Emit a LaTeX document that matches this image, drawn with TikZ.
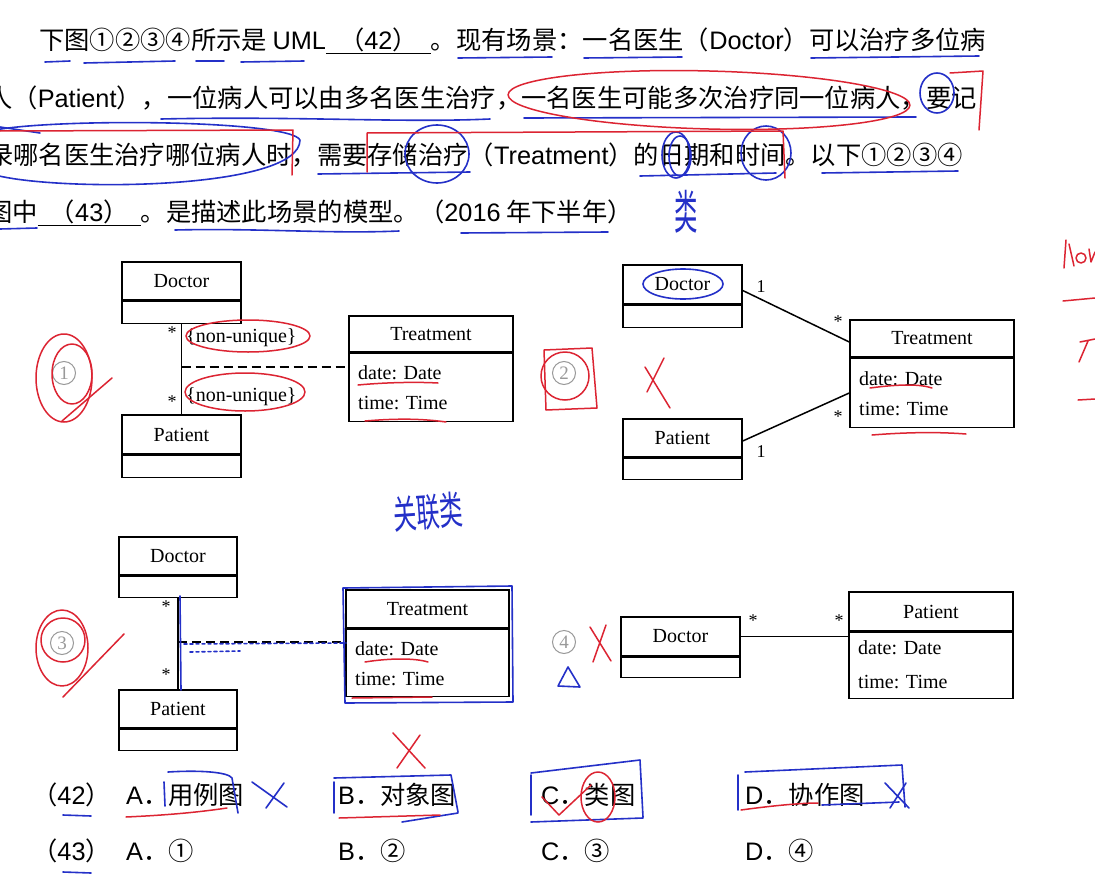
\documentclass[tikz,border=0pt]{standalone}
\usepackage{fontspec}
\setmainfont{Liberation Sans}
\newfontfamily\cjkfont{Noto Sans CJK SC}
\newfontfamily\latfont{Liberation Sans}
\newfontfamily\umlfont{Liberation Serif}
\definecolor{inkred}{RGB}{220,36,50}
\definecolor{inkblue}{RGB}{36,48,200}
\tikzset{
  qtext/.style={anchor=base west, inner sep=0pt, font=\cjkfont\fontsize{25.3}{30}\selectfont},
  clshead/.style={draw, line width=1.5pt, inner sep=0pt, font=\umlfont\fontsize{20}{24}\selectfont},
  clsbody/.style={draw, line width=1.5pt, inner sep=0pt, anchor=north},
  attr/.style={anchor=west, inner sep=0pt, font=\umlfont\fontsize{20}{24}\selectfont},
  mult/.style={inner sep=0pt, font=\umlfont\fontsize{18}{20}\selectfont},
  assoc/.style={line width=1.5pt},
  assocdash/.style={line width=1.5pt, dash pattern=on 9pt off 5pt},
  numlabel/.style={circle, draw=gray!80, line width=1pt, minimum size=23pt, inner sep=0pt, text=gray!80, font=\umlfont\fontsize{19}{20}\selectfont},
  redink/.style={draw=inkred, line width=1.5pt, line cap=round, line join=round},
  blueink/.style={draw=inkblue, line width=1.6pt, line cap=round, line join=round},
  handtext/.style={inner sep=0pt, text=inkblue, font=\cjkfont\fontsize{26}{30}\selectfont}
}

\begin{document}
\begin{tikzpicture}[x=1pt, y=-1pt]
    \useasboundingbox (0,0) rectangle (1095,875);
    \clip (0,0) rectangle (1095,875);
    \fill[white] (0,0) rectangle (1095,875);

    % Question text
    \node[qtext] (ln1) at (39,49) {下图①②③④所示是 {\latfont UML}\underline{\makebox[105pt]{（{\latfont 42}）}}。现有场景：一名医生（{\latfont Doctor}）可以治疗多位病};
    \node[qtext] (ln2) at (-13,107) {人（{\latfont Patient}），一位病人可以由多名医生治疗，一名医生可能多次治疗同一位病人，要记};
    \node[qtext] (ln3) at (-12,164) {录哪名医生治疗哪位病人时，需要存储治疗（{\latfont Treatment}）的日期和时间。以下①②③④};
    \node[qtext] (ln4) at (-13,221) {图中\underline{\makebox[103pt]{（{\latfont 43}）}}。是描述此场景的模型。（{\latfont 2016} 年下半年）};

    % Diagram 1
    \node[clshead, minimum width=119pt, minimum height=38pt] (doc1) at (181.5,281) {Doctor};
    \node[clsbody, minimum width=119pt, minimum height=22pt] (doc1b) at (doc1.south) {};
    \node[clshead, minimum width=119pt, minimum height=39pt] (pat1) at (181.5,434.5) {Patient};
    \node[clsbody, minimum width=119pt, minimum height=22pt] (pat1b) at (pat1.south) {};
    \node[clshead, minimum width=164pt, minimum height=36pt] (trt1) at (431,334) {Treatment};
    \node[clsbody, minimum width=164pt, minimum height=68pt] (trt1b) at (trt1.south) {};
    \node[attr] (dat1) at (358,373) {date: Date};
    \node[attr] (tim1) at (358,403) {time: Time};
    \draw[assoc] (doc1b.south) -- (pat1.north);
    \coordinate (ac1) at (181.5,367);
    \draw[assocdash] (ac1) -- (ac1 -| trt1b.west);
    \node[mult] (m1a) at (172,333) {*};
    \node[mult] (m1b) at (172,402) {*};
    \node[attr] (nu1a) at (186,338) {\{non-unique\}};
    \node[attr] (nu1b) at (186,397) {\{non-unique\}};
    \node[numlabel] (n1) at (64,373) {1};

    % Diagram 2
    \node[clshead, minimum width=119pt, minimum height=39pt] (doc2) at (682.5,284.5) {Doctor};
    \node[clsbody, minimum width=119pt, minimum height=22pt] (doc2b) at (doc2.south) {};
    \node[clshead, minimum width=119pt, minimum height=38pt] (pat2) at (682.5,438) {Patient};
    \node[clsbody, minimum width=119pt, minimum height=21pt] (pat2b) at (pat2.south) {};
    \node[clshead, minimum width=164pt, minimum height=37pt] (trt2) at (932,338.5) {Treatment};
    \node[clsbody, minimum width=164pt, minimum height=69pt] (trt2b) at (trt2.south) {};
    \node[attr] (dat2) at (859,379) {date: Date};
    \node[attr] (tim2) at (859,409) {time: Time};
    \draw[assoc] ([yshift=-6pt]doc2.east) -- ([yshift=-3.5pt]trt2.west);
    \draw[assoc] ([yshift=-3pt]pat2.east) -- (trt2b.west);
    \node[mult] (m2a) at (761,287) {1};
    \node[mult] (m2b) at (838,322) {*};
    \node[mult] (m2c) at (838,417) {*};
    \node[mult] (m2d) at (761,452) {1};
    \node[numlabel] (n2) at (564,373) {2};

    % Diagram 3
    \node[clshead, minimum width=118pt, minimum height=38pt] (doc3) at (178,556) {Doctor};
    \node[clsbody, minimum width=118pt, minimum height=21pt] (doc3b) at (doc3.south) {};
    \node[clshead, minimum width=118pt, minimum height=38pt] (pat3) at (178,709) {Patient};
    \node[clsbody, minimum width=118pt, minimum height=21pt] (pat3b) at (pat3.south) {};
    \node[clshead, minimum width=163pt, minimum height=38pt] (trt3) at (427.5,609) {Treatment};
    \node[clsbody, minimum width=163pt, minimum height=67pt] (trt3b) at (trt3.south) {};
    \node[attr] (dat3) at (355,649) {date: Date};
    \node[attr] (tim3) at (355,679) {time: Time};
    \draw[assoc] (doc3b.south) -- (pat3.north);
    \coordinate (ac3) at (178,642);
    \draw[assocdash] (ac3) -- (ac3 -| trt3b.west);
    \node[mult] (m3a) at (166,607) {*};
    \node[mult] (m3b) at (166,675) {*};
    \node[numlabel] (n3) at (62,643) {3};

    % Diagram 4
    \node[clshead, minimum width=119pt, minimum height=39pt] (doc4) at (680.5,636.5) {Doctor};
    \node[clsbody, minimum width=119pt, minimum height=20pt] (doc4b) at (doc4.south) {};
    \node[clshead, minimum width=164pt, minimum height=39pt] (pat4) at (931,611.5) {Patient};
    \node[clsbody, minimum width=164pt, minimum height=66pt] (pat4b) at (pat4.south) {};
    \node[attr] (dat4) at (858,648) {date: Date};
    \node[attr] (tim4) at (858,682) {time: Time};
    \draw[assoc] (doc4.east) -- (doc4.east -| pat4b.west);
    \node[mult] (m4a) at (753,621) {*};
    \node[mult] (m4b) at (839,621) {*};
    \node[numlabel] (n4) at (564,642) {4};

    % Answer options
    \node[qtext] (q42) at (32,804) {（{\latfont 42}）};
    \node[qtext] (o42a) at (126,804) {{\latfont A}．用例图};
    \node[qtext] (o42b) at (338,804) {{\latfont B}．对象图};
    \node[qtext] (o42c) at (541,804) {{\latfont C}．类图};
    \node[qtext] (o42d) at (745,804) {{\latfont D}．协作图};
    \node[qtext] (q43) at (32,860) {（{\latfont 43}）};
    \node[qtext] (o43a) at (126,860) {{\latfont A}．①};
    \node[qtext] (o43b) at (338,860) {{\latfont B}．②};
    \node[qtext] (o43c) at (541,860) {{\latfont C}．③};
    \node[qtext] (o43d) at (745,860) {{\latfont D}．④};

    % Blue pen: underlines and rings on the text
    \draw[blueink] (45,62) -- (70,61) (84,63) -- (175,61) (196,61) -- (224,61) (241,62) -- (304,61);
    \draw[blueink] (458,58) -- (552,57) (584,58) -- (682,57) (811,58) -- (979,56);
    \draw[blueink] (161,119) .. controls (300,116) and (400,123) .. (490,119);
    \draw[blueink] (524,118) -- (916,117);
    \draw[blueink] (300,140) .. controls (300,190) and (60,192) .. (-5,175) (300,140) .. controls (290,120) and (60,118) .. (-5,130);
    \draw[blueink] (0,127) -- (40,133);
    \draw[blueink] (937,93) ellipse [x radius=17, y radius=20];
    \draw[blueink] (437,154) ellipse [x radius=32, y radius=29];
    \draw[blueink] (676,155) ellipse [x radius=14, y radius=23];
    \draw[blueink] (680,156) ellipse [x radius=11, y radius=20];
    \draw[blueink] (766,153) ellipse [x radius=25, y radius=27];
    \draw[blueink] (318,174) -- (470,172) (640,176) -- (776,173) (822,173) -- (958,171);
    \draw[blueink] (0,229) -- (37,228) (175,230) .. controls (260,228) and (330,234) .. (399,231) (461,233) -- (608,232);
    \node[handtext] (lei) at (686,212) {\scalebox{0.9}[1.8]{类}};
    \node[handtext, rotate=4] (glei) at (428,512) {\scalebox{0.9}[1.5]{关联类}};

    % Red pen on the text
    \draw[redink, rotate around={-1.5:(709,100)}] (709,100) ellipse [x radius=201, y radius=29];
    \draw[redink] (950,73) -- (983,71) -- (979,130);
    \draw[redink] (0,131) -- (293,130) -- (292,175);
    \draw[redink] (367,172) -- (367,133) -- (783,131) -- (785,178);
    \draw[redink] (1064,268) -- (1066,240) (1069,244) -- (1074,266);
    \draw[redink] (1081,258) circle [radius=5];
    \draw[redink] (1089,249) -- (1091,262) -- (1095,252);
    \draw[redink] (1063,301) -- (1095,298);
    \draw[redink] (1080,342) -- (1095,339) (1088,341) -- (1079,362);
    \draw[redink] (1078,400) -- (1095,399);

    % Red and blue pen on the diagrams
    \draw[redink] (64,378) ellipse [x radius=28, y radius=44];
    \draw[redink] (72,374) ellipse [x radius=20, y radius=30];
    \draw[redink] (62,421) -- (112,378);
    \draw[redink] (248,336) ellipse [x radius=62, y radius=16];
    \draw[redink] (245,392) ellipse [x radius=60, y radius=19];
    \draw[redink] (358,385) .. controls (390,382) and (420,382) .. (438,383);
    \draw[redink] (365,421) .. controls (400,418) and (425,419) .. (446,422);
    \draw[blueink] (683,284) ellipse [x radius=40, y radius=15];
    \draw[redink] (565,376) circle [radius=24];
    \draw[redink] (544,350) -- (592,348) -- (597,408) -- (546,410) -- (544,350);
    \draw[redink] (664,358) -- (647,392) (645,367) -- (670,408);
    \draw[redink] (870,388) .. controls (900,384) and (920,384) .. (932,388);
    \draw[redink] (872,435) .. controls (910,432) and (940,432) .. (966,434);
    \draw[redink] (62,648) ellipse [x radius=26, y radius=38];
    \draw[redink] (63,640) circle [radius=22];
    \draw[redink] (63,697) -- (124,634);
    \draw[blueink] (180,596) -- (181,690);
    \draw[blueink, dashed] (184,644) -- (346,643) (190,652) -- (240,651);
    \draw[blueink] (343,588) -- (512,586) -- (513,702) -- (345,703) -- cycle;
    \draw[redink] (365,662) .. controls (390,658) and (415,658) .. (428,662);
    \draw[redink] (352,698) -- (432,697);
    \draw[redink] (393,733) -- (425,768) (420,735) -- (397,768);
    \draw[redink] (590,627) -- (611,661) (606,625) -- (593,662);
    \draw[blueink] (568,667) -- (580,687) -- (558,686) -- cycle;

    % Pen marks on the options
    \draw[blueink] (63,815) -- (91,816) (63,872) -- (91,873);
    \draw[blueink] (164,782) -- (165,806) (168,772) .. controls (200,770) and (228,772) .. (232,778) -- (238,813);
    \draw[redink] (126,817) .. controls (170,815) and (200,812) .. (227,808);
    \draw[blueink] (252,782) -- (287,807) (284,783) -- (266,808);
    \draw[blueink] (334,782) -- (334,813) (334,778) -- (451,775) -- (458,812) (402,822) -- (458,813);
    \draw[redink] (339,818) -- (440,815);
    \draw[blueink] (531,775) -- (531,815) (531,773) -- (640,760) -- (643,817) (531,822) -- (643,818);
    \draw[redink] (542,797) -- (559,815) -- (591,785);
    \draw[redink] (598,797) ellipse [x radius=17, y radius=25];
    \draw[blueink] (738,775) -- (738,810) (745,772) -- (902,765) -- (905,807) (822,805) -- (899,802);
    \draw[redink] (741,810) .. controls (770,806) and (800,803) .. (818,803);
    \draw[blueink] (885,783) -- (909,808) (906,783) -- (890,808);
\end{tikzpicture}
\end{document}
